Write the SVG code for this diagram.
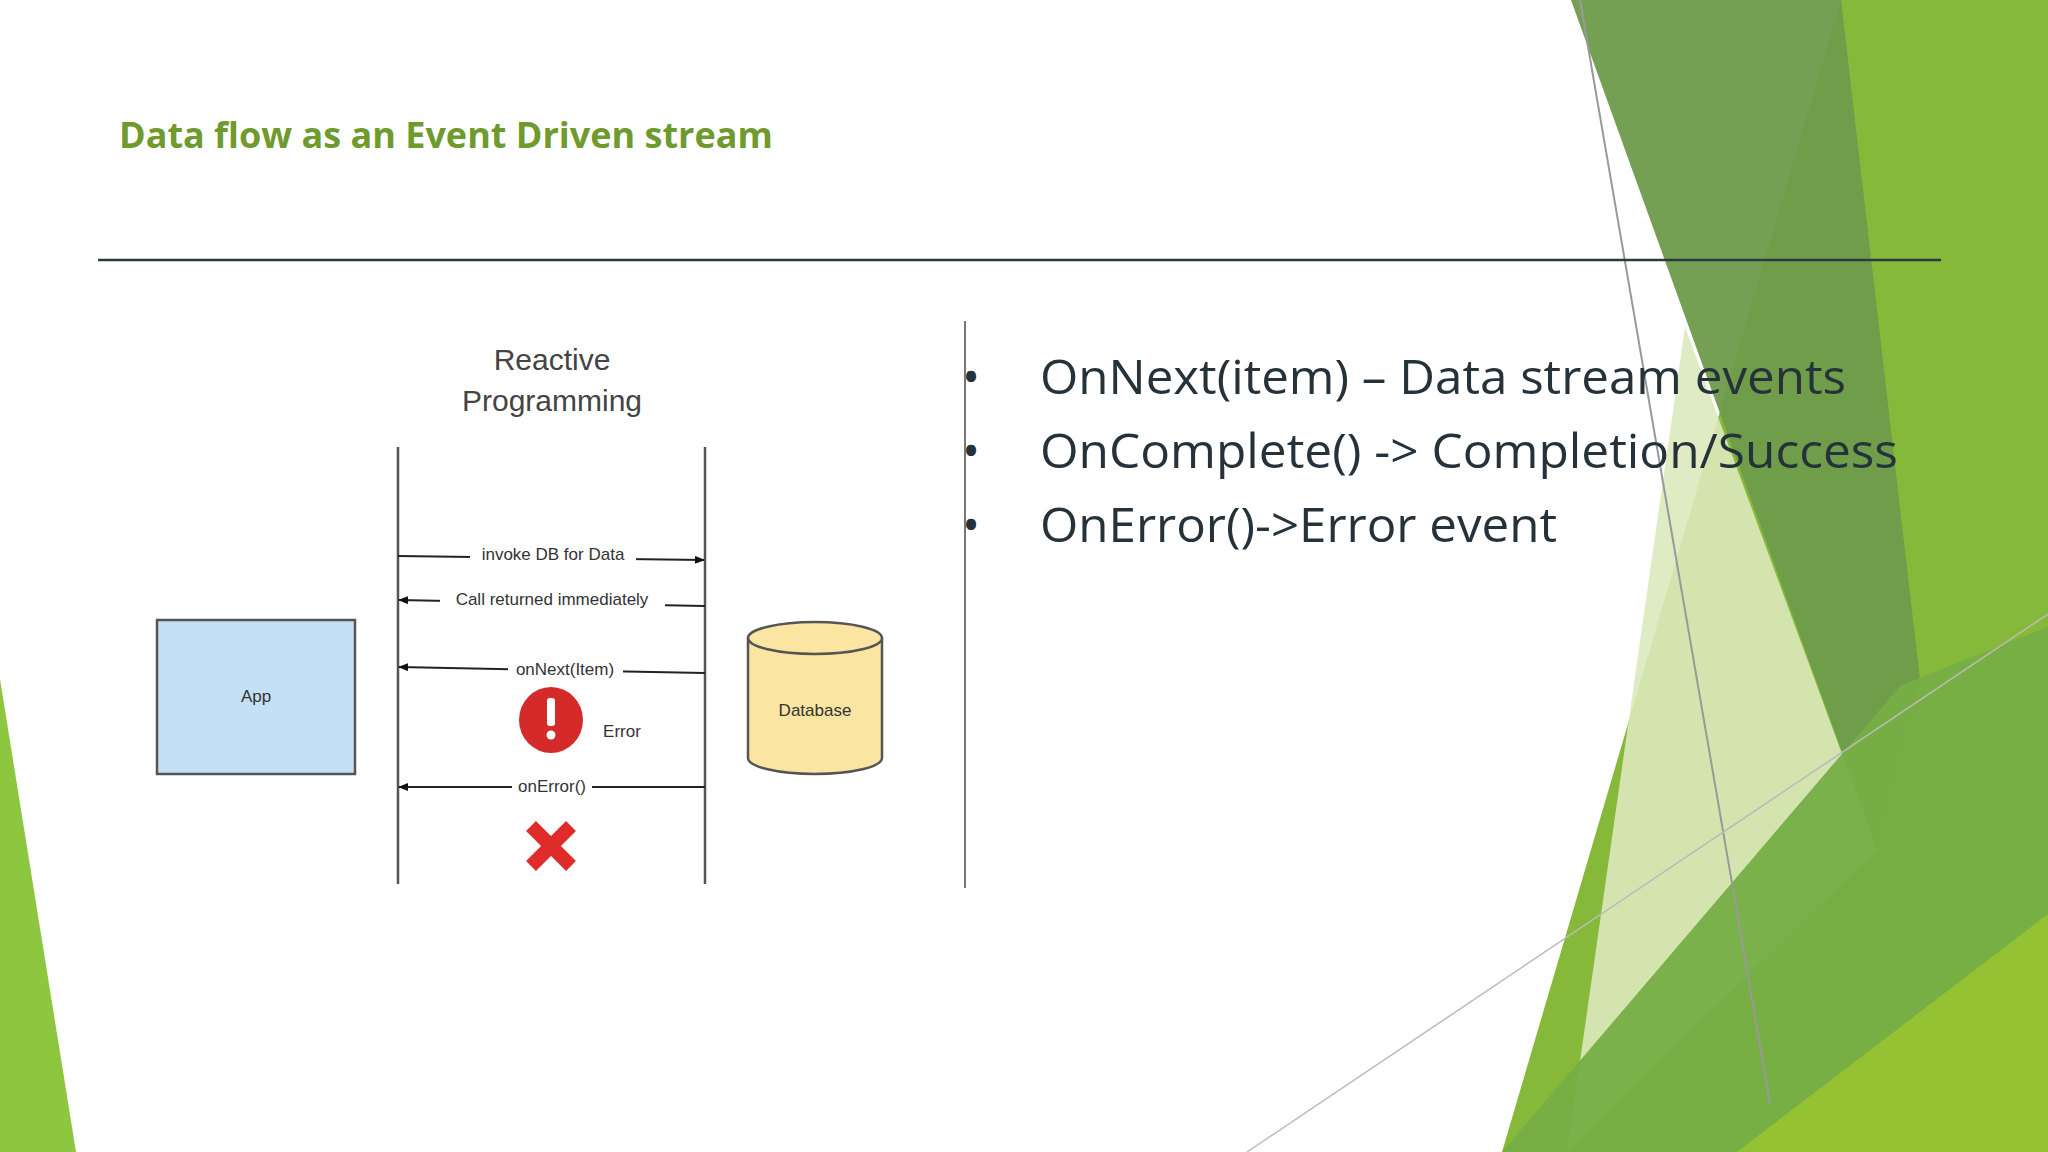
<svg xmlns="http://www.w3.org/2000/svg" width="2048" height="1152" viewBox="0 0 2048 1152">
<defs>
<style>
.ll{stroke:#555;stroke-width:2.5;fill:none}
.msg{stroke:#222;stroke-width:2;fill:none}
.lbl{font-family:"Liberation Sans",Arial,sans-serif;font-size:17px;fill:#333;text-anchor:middle}
.bul{font-family:"Open Sans","DejaVu Sans",sans-serif;font-size:48px;fill:#26323a}
</style>
<marker id="ah" markerWidth="10" markerHeight="8" refX="9" refY="4" orient="auto" markerUnits="userSpaceOnUse" viewBox="0 0 10 8"><path d="M0,0 L10,4 L0,8 Z" fill="#111"/></marker>
</defs>
<rect width="2048" height="1152" fill="#fff"/>
<g id="background">
<polygon points="0,679 76,1152 0,1152" fill="#8dc63f"/>
<polygon points="1841,0 2048,0 2048,1152 1502,1152" fill="#86b83a"/>
<polygon points="1685,327 1877,849 1567,1152" fill="#dbe9bd" opacity="0.9"/>
<polygon points="1571,0 1841,0 1920,680 1877,849" fill="#6e9b4a" opacity="0.95"/>
<polygon points="1502,1152 1900,686 2048,627 2048,1152" fill="#76ae45" opacity="0.95"/>
<polygon points="1737,1152 2048,914 2048,1152" fill="#95c232"/>
<line x1="1580" y1="0" x2="1770" y2="1104" stroke="#999" stroke-width="2"/>
<line x1="1247" y1="1152" x2="2048" y2="614" stroke="#bbb" stroke-width="1.5"/>
</g>
<text x="119" y="148" font-family="Open Sans,'DejaVu Sans',sans-serif" font-weight="bold" font-size="36" fill="#6f9a2e">Data flow as an Event Driven stream</text>
<line x1="98" y1="260" x2="1941" y2="260" stroke="#2b3a40" stroke-width="2.5"/>
<line x1="965" y1="321" x2="965" y2="888" stroke="#777" stroke-width="2"/>
<g id="bullets">
<text class="bul" x="962" y="394">•</text>
<text class="bul" x="1040" y="394" textLength="806" lengthAdjust="spacingAndGlyphs">OnNext(item) – Data stream events</text>
<text class="bul" x="962" y="468">•</text>
<text class="bul" x="1040" y="468" textLength="858" lengthAdjust="spacingAndGlyphs">OnComplete() -&gt; Completion/Success</text>
<text class="bul" x="962" y="542">•</text>
<text class="bul" x="1040" y="542" textLength="517" lengthAdjust="spacingAndGlyphs">OnError()-&gt;Error event</text>
</g>
<g id="diagram-title">
<text x="552" y="370" font-family="Liberation Sans,Arial,sans-serif" font-size="30" fill="#444" text-anchor="middle">Reactive</text>
<text x="552" y="411" font-family="Liberation Sans,Arial,sans-serif" font-size="30" fill="#444" text-anchor="middle">Programming</text>
</g>
<g id="app"><rect x="157" y="620" width="198" height="154" fill="#c3e0f6" stroke="#555" stroke-width="2.5"/>
<text class="lbl" x="256" y="702">App</text></g>
<g id="database">
<path d="M748,638 L748,758 A67,16 0 0 0 882,758 L882,638" fill="#fbe5a3" stroke="#555" stroke-width="2.5"/>
<ellipse cx="815" cy="638" rx="67" ry="16" fill="#fbe5a3" stroke="#555" stroke-width="2.5"/>
<text class="lbl" x="815" y="716">Database</text></g>
<g id="lifelines"><line class="ll" x1="398" y1="447" x2="398" y2="884"/><line class="ll" x1="705" y1="447" x2="705" y2="884"/></g>
<g id="connectors">
<path class="msg" d="M398,556 L704,560" marker-end="url(#ah)"/>
<path class="msg" d="M705,606 L399,600" marker-end="url(#ah)"/>
<path class="msg" d="M705,673 L399,667" marker-end="url(#ah)"/>
<path class="msg" d="M705,787 L399,787" marker-end="url(#ah)"/>
</g>
<g id="labels">
<rect x="470" y="546" width="166" height="16" fill="#fff"/><text class="lbl" x="553" y="560">invoke DB for Data</text>
<rect x="440" y="591" width="225" height="16" fill="#fff"/><text class="lbl" x="552" y="605">Call returned immediately</text>
<rect x="508" y="661" width="115" height="16" fill="#fff"/><text class="lbl" x="565" y="675">onNext(Item)</text>
<rect x="512" y="778" width="80" height="16" fill="#fff"/><text class="lbl" x="552" y="792">onError()</text>
</g>
<g id="error">
<ellipse cx="551" cy="720" rx="32" ry="33" fill="#d42a2a"/>
<rect x="547" y="698" width="8" height="28" rx="3" fill="#fff"/>
<circle cx="551" cy="735" r="4.5" fill="#fff"/>
<text class="lbl" x="622" y="737">Error</text>
</g>
<g id="x-mark" stroke="#e02b2b" stroke-width="14" stroke-linecap="butt">
<line x1="531" y1="826" x2="571" y2="866"/><line x1="571" y1="826" x2="531" y2="866"/>
</g>
</svg>
